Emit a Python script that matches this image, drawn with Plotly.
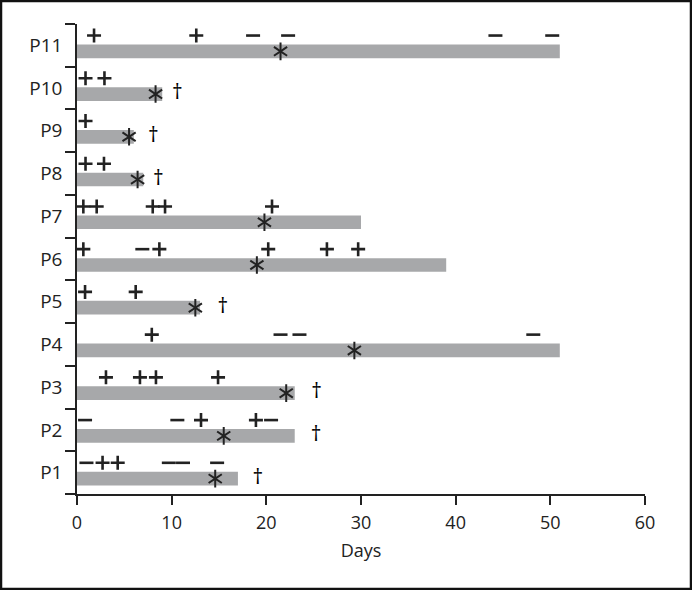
import plotly.graph_objects as go

patients = ["P1", "P2", "P3", "P4", "P5", "P6", "P7", "P8", "P9", "P10", "P11"]
duration = [17, 23, 23, 51, 13, 39, 30, 7, 6, 9, 51]
asterisk_day = [14.6, 15.5, 22.1, 29.3, 12.5, 19.0, 19.8, 6.4, 5.5, 8.3, 21.5]
dagger_day = [19.1, 25.25, 25.3, None, 15.4, None, None, 8.6, 8.06, 10.6, None]
plus_days = [
    [2.7, 4.3],
    [13.1, 18.9],
    [3.06, 6.65, 8.34, 14.9],
    [7.9],
    [0.85, 6.2],
    [0.67, 8.7, 20.2, 26.4, 29.7],
    [0.67, 2.08, 8.0, 9.3, 20.6],
    [0.9, 2.85],
    [0.9],
    [0.9, 2.9],
    [1.8, 12.6],
]
minus_days = [
    [1.0, 9.7, 11.2, 14.8],
    [0.85, 10.6, 20.5],
    [],
    [21.5, 23.5, 48.2],
    [],
    [6.9],
    [],
    [],
    [],
    [],
    [18.6, 22.3, 44.2, 50.2],
]
x_ticks = [0, 10, 20, 30, 40, 50, 60]
x_title = "Days"

pos = list(range(1, len(patients) + 1))
bar_off = -0.14
mark_off = 0.23
ink = "#222222"
font_family = "Open Sans, DejaVu Sans, sans-serif"

fig = go.Figure()
fig.add_trace(go.Bar(
    orientation="h", x=duration, y=[p + bar_off for p in pos], base=0,
    width=0.32, marker=dict(color="#a7a8aa", line=dict(width=0)),
    hoverinfo="skip",
))

px_, py_ = [], []
for p, ds in zip(pos, plus_days):
    for d in ds:
        px_.append(d); py_.append(p + mark_off)
fig.add_trace(go.Scatter(
    x=px_, y=py_, mode="markers",
    marker=dict(symbol="cross-thin", size=10, line=dict(width=2.6, color=ink)),
))

mx_, my_ = [], []
for p, ds in zip(pos, minus_days):
    for d in ds:
        mx_.append(d); my_.append(p + mark_off)
fig.add_trace(go.Scatter(
    x=mx_, y=my_, mode="markers",
    marker=dict(symbol="line-ew", size=10, line=dict(width=2.6, color=ink)),
))

ay = [p + bar_off for p in pos]
for sym in ["y-up", "y-down"]:
    fig.add_trace(go.Scatter(
        x=asterisk_day, y=ay, mode="markers",
        marker=dict(symbol=sym, size=11, line=dict(width=2, color=ink)),
    ))

dx_, dy_ = [], []
for p, d in zip(pos, dagger_day):
    if d is not None:
        dx_.append(d); dy_.append(p + bar_off)
fig.add_trace(go.Scatter(
    x=dx_, y=dy_, mode="text", text=["†"] * len(dx_),
    textfont=dict(size=21, color="#000000", family=font_family),
    textposition="middle center",
))

W, H = 692, 590
ml, mr, mt, mb = 77, 47, 24, 96
pw, ph = W - ml - mr, H - mt - mb

fig.update_layout(
    width=W, height=H,
    margin=dict(l=ml, r=mr, t=mt, b=mb),
    paper_bgcolor="white", plot_bgcolor="white",
    showlegend=False,
    font=dict(family=font_family, size=19, color=ink),
    xaxis=dict(
        range=[0, 60], tickvals=x_ticks, ticks="outside", ticklen=9,
        tickwidth=1.5, tickcolor=ink, showline=True, linecolor=ink,
        linewidth=1.5, showgrid=False, zeroline=False, automargin=False,
        ticklabelstandoff=3,
        title=dict(text=x_title, standoff=11, font=dict(size=18)),
        tickfont=dict(size=18),
    ),
    yaxis=dict(
        range=[0.5, 11.5], tickvals=pos, ticktext=patients, ticks="",
        ticklabelstandoff=9, automargin=False,
        showline=True, linecolor=ink, linewidth=1.5, showgrid=False,
        zeroline=False, tickfont=dict(size=19),
        minor=dict(tick0=0.5, dtick=1, ticks="outside", ticklen=10,
                   tickwidth=1.5, tickcolor=ink, showgrid=False),
    ),
    shapes=[dict(
        type="rect", xref="paper", yref="paper",
        x0=-(ml - 1) / pw, x1=1 + (mr - 1) / pw,
        y0=-(mb - 1) / ph, y1=1 + (mt - 1) / ph,
        line=dict(color="#111111", width=2.5), layer="above",
    )],
)

fig.write_html(
    "out.html",
    config={"displayModeBar": False},
    post_script="document.body.style.margin='0';document.body.style.padding='0';document.body.style.overflow='hidden';",
)
